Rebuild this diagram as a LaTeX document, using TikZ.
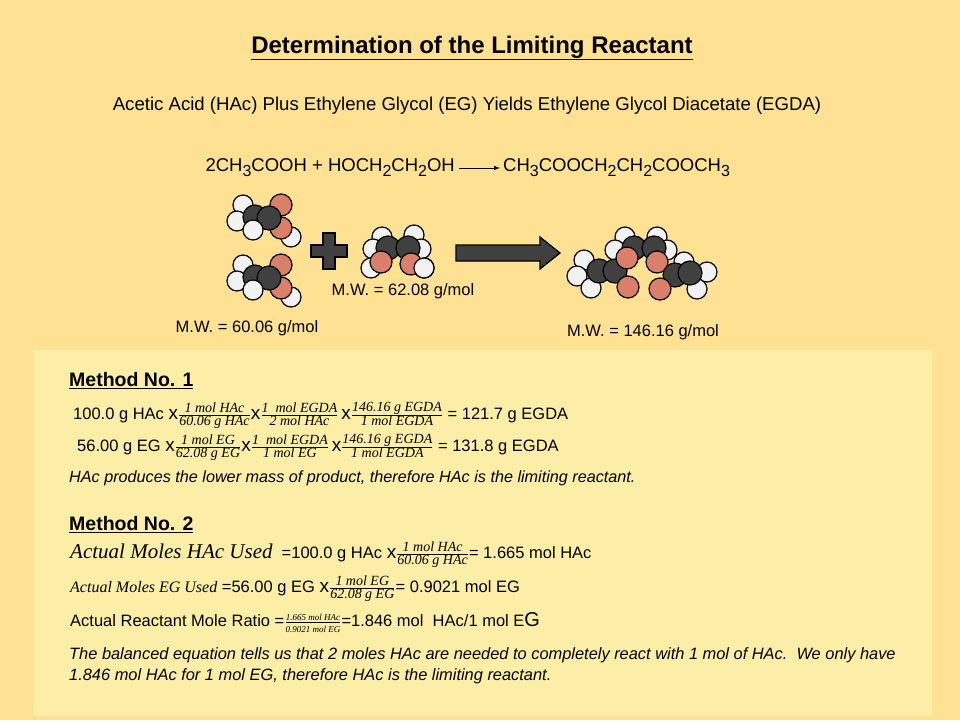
\documentclass[tikz,border=0pt]{standalone}
\usepackage{fontspec}
\setmainfont{Liberation Sans}
\newfontfamily\ser{Liberation Serif}
\newcommand{\fr}[2]{$\frac{\hbox{\ser\itshape\fontsize{14}{14}\selectfont #1}}{\hbox{\ser\itshape\fontsize{14}{14}\selectfont #2}}$}
\newcommand{\frs}[2]{$\frac{\hbox{\ser\itshape\fontsize{9}{9}\selectfont #1}}{\hbox{\ser\itshape\fontsize{9}{9}\selectfont #2}}$}
\newcommand{\X}{{\fontsize{19}{19}\selectfont x}}
\newcommand{\sbs}[1]{\raisebox{-5pt}{\fontsize{16}{16}\selectfont #1}}
\definecolor{bg}{HTML}{FFE194}
\definecolor{panel}{HTML}{FCEEA6}
\definecolor{cc}{HTML}{404040}
\definecolor{oo}{HTML}{D97F6A}
\definecolor{hh}{HTML}{F2F2F2}
\begin{document}
\begin{tikzpicture}[x=1pt,y=-1pt,
 H/.style={fill=hh,draw=black,line width=1.2pt},
 C/.style={fill=cc,draw=black,line width=1.2pt},
 O/.style={fill=oo,draw=black,line width=1.2pt},
 txt/.style={anchor=west,inner sep=0pt,font=\fontsize{16.5}{19}\selectfont},
 mw/.style={inner sep=0pt,font=\fontsize{16.5}{19}\selectfont}]
\fill[bg] (0,0) rectangle (960,720);
\useasboundingbox (0,0) rectangle (960,720);
\fill[panel] (33,350) rectangle (932,716);
\node[inner sep=0pt,font=\bfseries\fontsize{24}{28}\selectfont] (title) at (472,48) {\underline{Determination of the Limiting Reactant}};
\node[inner sep=0pt,font=\fontsize{18.6}{22}\selectfont] (sub) at (467,106) {Acetic Acid (HAc) Plus Ethylene Glycol (EG) Yields Ethylene Glycol Diacetate (EGDA)};
\node[inner sep=0pt,anchor=east,font=\fontsize{18.5}{22}\selectfont] (lhs) at (455,168) {2CH\sbs{3}COOH + HOCH\sbs{2}CH\sbs{2}OH};
\node[inner sep=0pt,anchor=west,font=\fontsize{18.5}{22}\selectfont] (rhs) at (503,168) {CH\sbs{3}COOCH\sbs{2}CH\sbs{2}COOCH\sbs{3}};
\draw[-latex,line width=1pt] ([xshift=4pt]lhs.east) -- ([xshift=-3pt]rhs.west);
% acetic acid x2
\foreach \dy in {0,60}{
\begin{scope}[yshift=-\dy]
\draw[H] (291,237) circle (10);
\draw[O] (281,228) circle (11);
\draw[O] (281,205) circle (11);
\draw[H] (243,205) circle (10);
\draw[H] (237,221) circle (10);
\draw[C] (255,217) circle (12);
\draw[C] (269,218) circle (12);
\draw[H] (253,230) circle (10);
\end{scope}}
% plus
\draw[fill=cc,line width=1.2pt] (323,233) -- (335,233) -- (335,245) -- (347,245) -- (347,257) -- (335,257) -- (335,269) -- (323,269) -- (323,257) -- (311,257) -- (311,245) -- (323,245) -- cycle;
% EG
\draw[H] (382,237) circle (10);
\draw[H] (414,235) circle (10);
\draw[H] (373,249) circle (10);
\draw[H] (421,249) circle (10);
\draw[C] (388,248) circle (12);
\draw[C] (408,248) circle (12);
\draw[H] (371,268) circle (10);
\draw[H] (424,268) circle (10);
\draw[O] (381,262) circle (11);
\draw[O] (411,264) circle (11);
\draw[H] (424,268) circle (10);
% arrow
\draw[fill=cc,line width=1.2pt] (456,245) -- (540,245) -- (540,237) -- (560,253) -- (540,269) -- (540,261) -- (456,261) -- cycle;
% product
\draw[H] (625,237) circle (10);
\draw[H] (657,237) circle (10);
\draw[H] (615,250) circle (10);
\draw[H] (667,250) circle (10);
\draw[C] (634,248) circle (12);
\draw[C] (654,248) circle (12);
\draw[H] (584,260) circle (10);
\draw[H] (577,276) circle (10);
\draw[H] (591,288) circle (10);
\draw[C] (599,271) circle (12);
\draw[C] (615,271) circle (12);
\draw[O] (627,258) circle (11);
\draw[O] (628,287) circle (11);
\draw[H] (684,262) circle (10);
\draw[H] (707,272) circle (10);
\draw[H] (697,289) circle (10);
\draw[O] (657,262) circle (11);
\draw[C] (675,275) circle (12);
\draw[C] (690,273) circle (12);
\draw[O] (660,289) circle (11);
% M.W.
\node[mw] (mw1) at (247,328) {M.W. = 60.06 g/mol};
\node[mw] (mw2) at (403,291) {M.W. = 62.08 g/mol};
\node[mw] (mw3) at (643,332) {M.W. = 146.16 g/mol};
% Method 1
\node[txt,font=\bfseries\fontsize{19.5}{22}\selectfont] (m1) at (69,381) {\underline{Method No. 1}};
\node[txt] (l1) at (73,415) {100.0 g HAc \X\fr{1 mol HAc}{60.06 g HAc}\X\fr{1\ \ mol EGDA}{2 mol HAc}\,\X\fr{146.16 g EGDA}{1 mol EGDA} = 121.7 g EGDA};
\node[txt] (l2) at (77,447) {56.00 g EG \X\fr{1 mol EG}{62.08 g EG}\X\fr{1\ \ mol EGDA}{1 mol EG}\,\X\fr{146.16 g EGDA}{1 mol EGDA} = 131.8 g EGDA};
\node[txt,font=\itshape\fontsize{16.2}{19}\selectfont] (l3) at (69,478) {HAc produces the lower mass of product, therefore HAc is the limiting reactant.};
% Method 2
\node[txt,font=\bfseries\fontsize{19.5}{22}\selectfont] (m2) at (69,525) {\underline{Method No. 2}};
\node[txt] (l4) at (70,555) {{\ser\itshape\fontsize{21}{22}\selectfont Actual Moles HAc Used}\ \ =100.0 g HAc \X\fr{1 mol HAc}{60.06 g HAc}= 1.665 mol HAc};
\node[txt] (l5) at (70,589) {{\ser\itshape\fontsize{16}{18}\selectfont Actual Moles EG Used} =56.00 g EG \X\fr{1 mol EG}{62.08 g EG}= 0.9021 mol EG};
\node[txt] (l6) at (70,623) {Actual Reactant Mole Ratio =\frs{1.665 mol HAc}{0.9021 mol EG}=1.846 mol\ \ HAc/1 mol E{\fontsize{20}{20}\selectfont G}};
\node[txt,font=\itshape\fontsize{16.4}{19}\selectfont] (l7) at (69,655) {The balanced equation tells us that 2 moles HAc are needed to completely react with 1 mol of HAc.\ \ We only have};
\node[txt,font=\itshape\fontsize{16.4}{19}\selectfont] (l8) at (69,676) {1.846 mol HAc for 1 mol EG, therefore HAc is the limiting reactant.};
\end{tikzpicture}
\end{document}
